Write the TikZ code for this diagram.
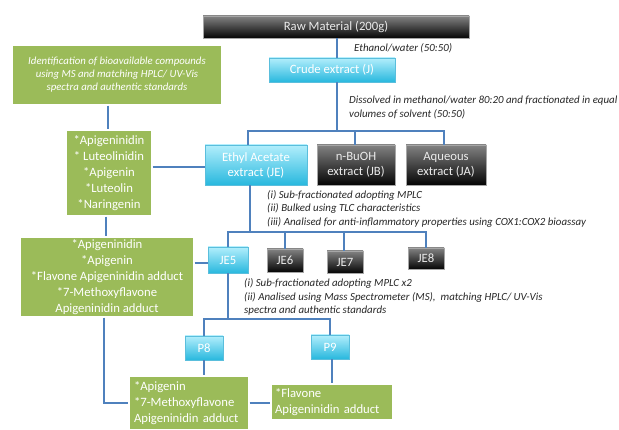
\documentclass[tikz,border=0pt]{standalone}
\usepackage{fontspec}
\setmainfont{Carlito}
\usetikzlibrary{shadows,calc}
\definecolor{lineblue}{RGB}{79,129,189}
\definecolor{gbox}{RGB}{155,187,89}
\definecolor{cyantop}{RGB}{178,238,252}
\definecolor{cyanbot}{RGB}{40,184,222}
\definecolor{cyanedge}{RGB}{90,190,220}
\definecolor{darktop}{RGB}{130,130,130}
\definecolor{darkbot}{RGB}{5,5,5}
\tikzset{
  base/.style={inner sep=0pt, align=center, text=white},
  cyanbox/.style={base, top color=cyantop, bottom color=cyanbot, draw=cyanedge, line width=0.4pt,
    drop shadow={opacity=0.25, shadow xshift=1pt, shadow yshift=-1pt}, font=\fontsize{12.7}{15}\selectfont},
  darkbox/.style={base, top color=darktop, bottom color=darkbot, draw=gray!70, line width=0.4pt, text=white!92!black,
    drop shadow={opacity=0.25, shadow xshift=1pt, shadow yshift=-1pt}, font=\fontsize{12.7}{15}\selectfont},
  greenbox/.style={base, fill=gbox, draw=white, line width=1.2pt,
    drop shadow={opacity=0.22, shadow xshift=1pt, shadow yshift=-1.2pt}, font=\fontsize{12.7}{15.8}\selectfont},
  conn/.style={draw=lineblue, line width=1.3pt},
  note/.style={inner sep=0pt, anchor=west, align=left, text=black!85, font=\fontsize{10.9}{13.5}\selectfont\itshape}
}
\begin{document}
\begin{tikzpicture}[x=1pt,y=-1pt]
\useasboundingbox (0,0) rectangle (619,430);
% nodes
\node[darkbox, minimum width=266, minimum height=22] (raw) at (336,27) {Raw Material (200g)};
\node[cyanbox, minimum width=126, minimum height=24] (crude) at (332,70) {Crude extract (J)};
\node[cyanbox, minimum width=102, minimum height=40] (JE) at (256,165) {Ethyl Acetate\\extract (JE)};
\node[darkbox, minimum width=78, minimum height=40] (JB) at (356,165) {n-BuOH\\extract (JB)};
\node[darkbox, minimum width=80, minimum height=40] (JA) at (446,165) {Aqueous\\extract (JA)};
\node[greenbox, minimum width=210, minimum height=60, font=\fontsize{10.8}{13}\selectfont\itshape] (ident) at (117,75)
  {Identification of bioavailable compounds\\{}using MS and matching HPLC/ UV-Vis\\{}spectra and authentic standards};
\node[greenbox, minimum width=86, minimum height=86] (g2) at (109,173)
  {*Apigeninidin\\{}* Luteolinidin\\{}*Apigenin\\{}*Luteolin\\{}*Naringenin};
\node[greenbox, minimum width=174, minimum height=80] (g3) at (107,277)
  {*Apigeninidin\\{}*Apigenin\\{}*Flavone Apigeninidin adduct\\{}*7-Methoxyflavone\\{}Apigeninidin adduct};
\node[cyanbox, minimum width=40, minimum height=26] (JE5) at (228,260) {JE5};
\node[darkbox, minimum width=36, minimum height=23] (JE6) at (285,260.5) {JE6};
\node[darkbox, minimum width=36, minimum height=22, text depth=-3pt] (JE7) at (345,262) {JE7};
\node[darkbox, minimum width=36, minimum height=21] (JE8) at (426,258.5) {JE8};
\node[cyanbox, minimum width=38, minimum height=24] (P8) at (204,348) {P8};
\node[cyanbox, minimum width=38, minimum height=24] (P9) at (330,347) {P9};
\node[greenbox, minimum width=120, minimum height=54, align=left, text width=110] (g4) at (189,403)
  {*Apigenin\\{}*7-Methoxyflavone\\{}Apigeninidin adduct};
\node[greenbox, minimum width=122, minimum height=36, align=left, text width=114] (g5) at (332,402)
  {*Flavone\\{}Apigeninidin adduct};
% notes
\node[note] (n1) at (354,48) {Ethanol/water (50:50)};
\node[note] (n2) at (349,107.5) {Dissolved in methanol/water 80:20 and fractionated in equal\\{}volumes of solvent (50:50)};
\node[note] (n3) at (267,208.5) {(i) Sub-fractionated adopting MPLC\\{}(ii) Bulked using TLC characteristics\\{}(iii) Analised for anti-inflammatory properties using COX1:COX2 bioassay};
\node[note] (n4) at (244,297) {(i) Sub-fractionated adopting MPLC x2\\{}(ii) Analised using Mass Spectrometer (MS),\ \ matching HPLC/ UV-Vis\\{}spectra and authentic standards};
% coordinates
\coordinate (b1) at (337,131);
\coordinate (b2) at (250,232);
\coordinate (b3) at (229,319);
% connectors
\path[conn] (raw.south -| b1) -- (crude.north -| b1);
\path[conn] (crude.south -| b1) -- (b1);
\path[conn] ([xshift=-8pt]JE.north) |- (b1) -| ([xshift=-1pt]JB.north);
\path[conn] (b1) -| ([xshift=-2pt]JA.north);
\path[conn] ([xshift=-1pt]g2.north |- ident.south) -- ([xshift=-1pt]g2.north);
\path[conn] (g2.east |- 0,167) -- (JE.west |- 0,167);
\path[conn] ([xshift=-3pt]g2.south) -- ([xshift=-3pt]g2.south |- g3.north);
\path[conn] (JE.south -| b2) -- (b2);
\path[conn] (JE5.north) |- (b2) -| (JE8.north);
\path[conn] (b2) -| (JE6.north);
\path[conn] (b2) -| ([xshift=-1pt]JE7.north);
\path[conn] (g3.east |- 0,263) -- (JE5.west |- 0,263);
\path[conn] (JE5.south) -- (JE5.south |- b3);
\path[conn] (P8.north) |- (b3) -| (P9.north);
\path[conn] (P8.south) -- (P8.south |- g4.north);
\path[conn] ([xshift=2pt]P9.south) -- ([xshift=2pt]P9.south |- g5.north);
\path[conn] ([xshift=-3pt]g3.south) |- (g4.west);
\path[conn] (g4.east) -- (g4.east -| g5.west);
\end{tikzpicture}
\end{document}
